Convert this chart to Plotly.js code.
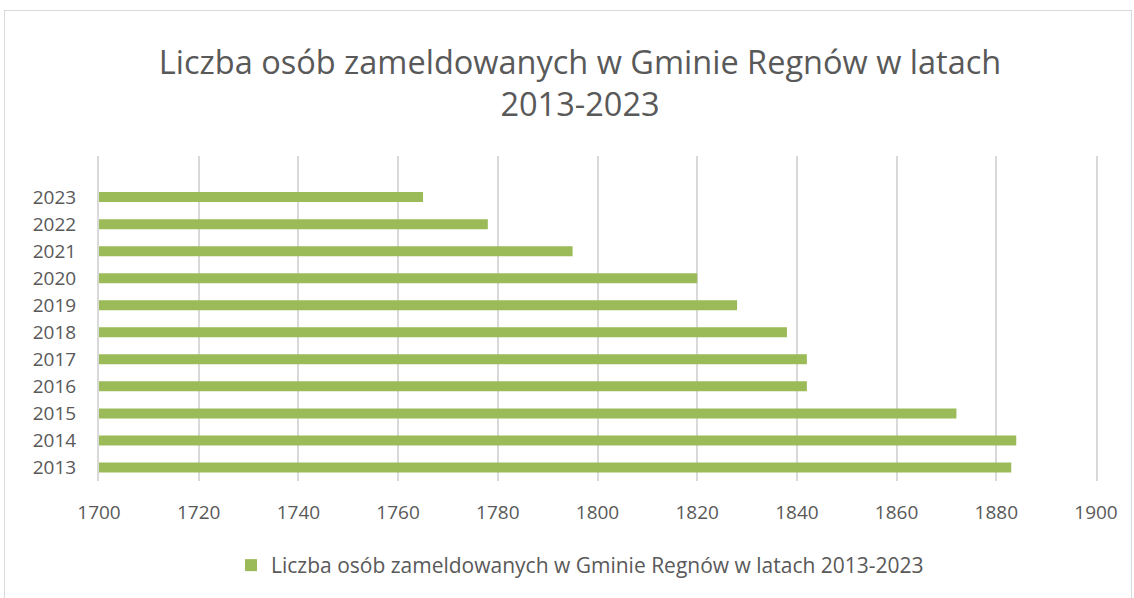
<!DOCTYPE html>
<html>
<head>
<meta charset="utf-8">
<script src="https://cdn.plot.ly/plotly-3.0.1.min.js"></script>
<style>
html,body{margin:0;padding:0;background:#fff;}
#chart{position:absolute;left:0;top:0;width:1134px;height:598px;}
#frame{position:absolute;left:4px;top:10px;width:1126px;height:600px;border:1px solid #D9D9D9;pointer-events:none;}
</style>
</head>
<body>
<div id="chart"></div>
<div id="frame"></div>
<script>
const years = ["2013","2014","2015","2016","2017","2018","2019","2020","2021","2022","2023"];
const residents = [1883,1884,1872,1842,1842,1838,1828,1820,1795,1778,1765];
const seriesName = "Liczba osób zameldowanych w Gminie Regnów w latach 2013-2023";
const xTicks = [1700,1720,1740,1760,1780,1800,1820,1840,1860,1880,1900];

const fontFam = "Open Sans, Noto Sans, sans-serif";
const trace = {
  type: "bar",
  orientation: "h",
  y: years,
  x: residents,
  base: 0,
  name: seriesName,
  marker: {color: "#9BBB59"},
  showlegend: true,
  hoverinfo: "x+y"
};

const layout = {
  width: 1134, height: 598,
  margin: {l: 99, r: 38, t: 156, b: 115},
  paper_bgcolor: "#fff", plot_bgcolor: "#fff",
  font: {family: fontFam, color: "#595959"},
  title: {
    text: "Liczba osób zameldowanych w Gminie Regnów w latach<br>2013-2023",
    font: {size: 32.5, color: "#595959", family: fontFam},
    x: 580/1134, xanchor: "center", xref: "container",
    y: 1 - 74/598, yanchor: "middle", yref: "container"
  },
  bargap: 0.63,
  xaxis: {
    range: [1700, 1900],
    tickvals: xTicks,
    ticktext: xTicks.map(String),
    showgrid: true, gridcolor: "#D9D9D9", gridwidth: 2,
    zeroline: false, showline: false,
    ticks: "", ticklabelstandoff: 18,
    tickfont: {size: 19, color: "#595959"},
    fixedrange: true
  },
  yaxis: {
    type: "category",
    categoryorder: "array", categoryarray: years,
    range: [-0.5, 11.52],
    showgrid: false, zeroline: false,
    showline: true, mirror: true, linecolor: "#D9D9D9", linewidth: 2,
    ticks: "", ticklabelstandoff: 17,
    tickfont: {size: 19, color: "#595959"},
    fixedrange: true
  },
  legend: {
    orientation: "h",
    x: (580 - 99) / 997, xanchor: "center",
    y: (483 - 568) / 327, yanchor: "middle",
    font: {size: 21, color: "#595959"},
    itemwidth: 30
  }
};

Plotly.newPlot("chart", [trace], layout, {displayModeBar: false, staticPlot: true});
</script>
</body>
</html>
